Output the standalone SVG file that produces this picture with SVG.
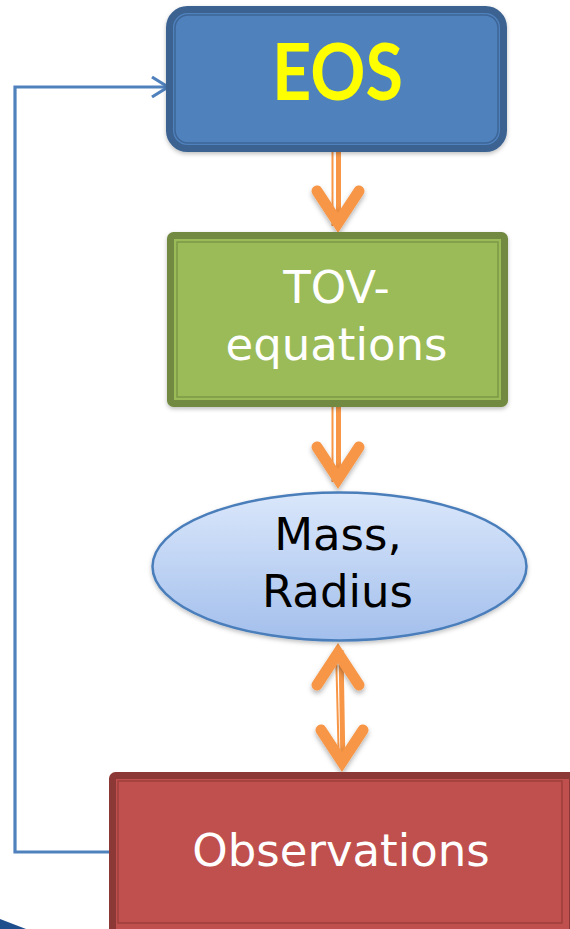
<svg xmlns="http://www.w3.org/2000/svg" width="570" height="929" viewBox="0 0 570 929">
  <defs>
    <linearGradient id="ellGrad" x1="0" y1="0" x2="0" y2="1">
      <stop offset="0" stop-color="#dae7fb"/>
      <stop offset="1" stop-color="#a3bfec"/>
    </linearGradient>
    <filter id="shadow" x="-30%" y="-30%" width="160%" height="170%">
      <feDropShadow dx="0" dy="3" stdDeviation="2.5" flood-color="#000" flood-opacity="0.3"/>
    </filter>
    <filter id="boxShadow" x="-10%" y="-10%" width="120%" height="125%">
      <feDropShadow dx="0" dy="2" stdDeviation="2" flood-color="#000" flood-opacity="0.25"/>
    </filter>
  </defs>
  <style>
    .lbl { font-family: "DejaVu Sans", Verdana, sans-serif; font-size: 45px; text-anchor: middle; }
    .white { fill: #ffffff; }
    .shaft { stroke: #f79646; fill: none; }
    .chev { stroke: #f79646; stroke-width: 11; fill: none; stroke-linecap: round; stroke-linejoin: miter; stroke-miterlimit: 10; }
    .fb { stroke: #4f81bd; stroke-width: 3.2; fill: none; }
  </style>

  <g id="decoration">
    <polygon points="0,919 26,929 0,929" fill="#1f4e8c"/>
  </g>

  <g id="connectors">
    <!-- feedback: Observations -> EOS -->
    <path class="fb" d="M115,852 L15,852 L15,87 L166,87"/>
    <path class="fb" d="M152,77 L168,87 L152,97" stroke-linejoin="miter"/>
    <!-- EOS -> TOV -->
    <line class="shaft" x1="332.5" y1="148" x2="332.5" y2="226" stroke-width="2"/>
    <line class="shaft" x1="338.5" y1="148" x2="338.5" y2="226" stroke-width="5"/>
    <path class="chev" filter="url(#shadow)" d="M317,191 L338,223 L359,191"/>
    <!-- TOV -> Mass,Radius -->
    <line class="shaft" x1="332.5" y1="405" x2="332.5" y2="482" stroke-width="2"/>
    <line class="shaft" x1="338.5" y1="405" x2="338.5" y2="482" stroke-width="5"/>
    <path class="chev" filter="url(#shadow)" d="M317,447 L338,479 L359,447"/>
    <!-- Mass,Radius <-> Observations -->
    <line class="shaft" x1="336" y1="650" x2="339" y2="766" stroke-width="2"/>
    <line class="shaft" x1="341" y1="650" x2="343" y2="766" stroke-width="5"/>
    <path class="chev" filter="url(#shadow)" d="M317,685 L338,653 L359,685"/>
    <path class="chev" filter="url(#shadow)" d="M321,730 L342,762 L363,730"/>
  </g>

  <g id="node-eos">
    <rect x="169.5" y="9.5" width="334" height="139" rx="18" fill="#4f81bd" stroke="#3a6291" stroke-width="7" filter="url(#boxShadow)"/>
    <rect x="175" y="15" width="323" height="128" rx="13" fill="none" stroke="#3d6597" stroke-width="1.5"/>
    <text x="337.5" y="100" font-family="Lato, 'Open Sans', sans-serif" font-weight="bold" font-size="79" fill="#ffff00" text-anchor="middle" textLength="131" lengthAdjust="spacingAndGlyphs">EOS</text>
  </g>

  <g id="node-tov">
    <rect x="170.5" y="235.5" width="334" height="168" rx="3" fill="#9bbb59" stroke="#71893f" stroke-width="7" filter="url(#boxShadow)"/>
    <rect x="177" y="242" width="321" height="155" fill="none" stroke="#7c9845" stroke-width="1.5"/>
    <text class="lbl white" x="336.5" y="303">TOV-</text>
    <text class="lbl white" x="336.5" y="360">equations</text>
  </g>

  <g id="node-massradius">
    <ellipse cx="339.5" cy="566.5" rx="187" ry="74" fill="url(#ellGrad)" stroke="#4a7ebb" stroke-width="2.5" filter="url(#boxShadow)"/>
    <text class="lbl" x="338" y="550" font-size="44" fill="#000000">Mass,</text>
    <text class="lbl" x="337.5" y="607" font-size="44" fill="#000000">Radius</text>
  </g>

  <g id="node-observations">
    <rect x="112.5" y="775.5" width="460" height="160" rx="3" fill="#c0504d" stroke="#8c3836" stroke-width="7"/>
    <rect x="118" y="781" width="444" height="142" fill="none" stroke="#9d3e3b" stroke-width="1.5"/>
    <text class="lbl white" x="341" y="866" font-size="46">Observations</text>
  </g>
</svg>
